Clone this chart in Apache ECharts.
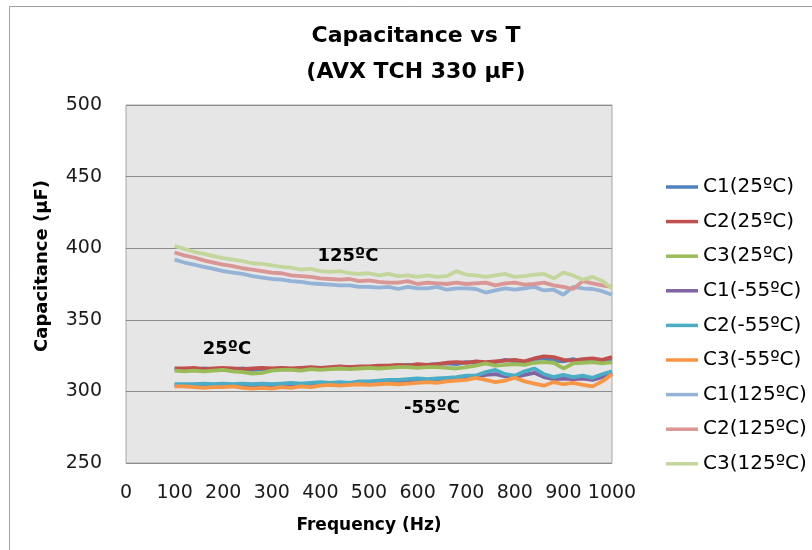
<!DOCTYPE html>
<html>
<head>
<meta charset="utf-8">
<title>Capacitance vs T</title>
<script src="https://cdn.jsdelivr.net/npm/echarts@6/dist/echarts.min.js"></script>
<style>
  html, body { margin: 0; padding: 0; background: #fff; }
  #chart { width: 812px; height: 550px; }
</style>
</head>
<body>
<div id="chart"></div>
<script>
// frequency points (Hz)
var freq = [100, 120, 140, 160, 180, 200, 220, 240, 260, 280,
  300, 320, 340, 360, 380, 400, 420, 440, 460, 480,
  500, 520, 540, 560, 580, 600, 620, 640, 660, 680,
  700, 720, 740, 760, 780, 800, 820, 840, 860, 880,
  900, 920, 940, 960, 980, 1000];

// capacitance (uF)
var c1_25 = [315.5, 315.5, 315, 316, 315.5, 315, 315.5, 316, 315, 315.5,
  315.5, 316, 315.5, 316, 316.5, 316, 316, 316.5, 317, 316.5,
  317, 317.5, 317.5, 318, 318.5, 318, 318.5, 319, 319.5, 319,
  320.5, 320, 319.5, 320.5, 322, 321, 320.5, 322.5, 323, 321.5,
  321, 322.5, 320.5, 322, 321.5, 322];
var c2_25 = [316, 316, 316.5, 315.5, 316, 316.5, 316, 315.5, 316, 316.5,
  316, 316.5, 316, 316.5, 317, 316.5, 317, 317.5, 317, 317.5,
  317.5, 318, 318, 318.5, 318, 319, 318.5, 319, 320, 320.5,
  320, 321, 320.5, 321, 321.5, 322, 321, 323, 324.5, 324,
  322, 321.5, 322.5, 323, 322, 324];
var c3_25 = [314.5, 314, 314.5, 314, 314.5, 315, 314, 313.5, 312.5, 313,
  314.5, 315, 315, 314.5, 315.5, 315, 315.5, 316, 315.5, 316,
  316.5, 316, 316.5, 317, 317, 316.5, 317, 317, 316.5, 316,
  317, 318, 319.5, 318, 318.5, 319, 318.5, 320, 320.5, 320,
  316, 319.5, 320, 320.5, 319.5, 320.5];
var c1_m55 = [304.5, 304, 304, 304.5, 304, 304.5, 304, 304.5, 304, 304,
  304, 304.5, 305, 304.5, 305, 305.5, 305, 305.5, 305.5, 306,
  306, 306.5, 307, 307, 307.5, 308, 307.5, 308, 308.5, 309,
  310, 310, 311.5, 312, 310.5, 310, 311.5, 313, 310, 308.5,
  309, 308.5, 309, 308, 310, 313];
var c2_m55 = [305, 305, 305, 305.5, 305, 305.5, 305, 305.5, 305, 305.5,
  305, 305.5, 306, 305.5, 306, 306.5, 306, 306.5, 306, 307,
  307, 307.5, 308, 308, 308.5, 309, 308.5, 309, 309.5, 310,
  311, 311, 313.5, 315, 312, 311, 314, 316, 312, 310,
  311.5, 310, 311, 309.5, 312, 314];
var c3_m55 = [303.5, 303.5, 303, 302.5, 303, 303, 303.5, 302.5, 302, 302.5,
  302, 303, 302.5, 303.5, 303, 304, 304.5, 304, 304.5, 305,
  304.5, 305, 305.5, 305, 305.5, 306, 306.5, 306, 307, 307.5,
  308, 309.5, 308, 306.5, 307.5, 309.5, 307, 305.5, 304, 306.5,
  305, 306, 304.5, 303.5, 307, 312];
var c1_125 = [392, 390, 388.5, 387, 385.5, 384, 383, 382, 380.5, 379.5,
  378.5, 378, 377, 376.5, 375.5, 375, 374.5, 374, 374, 373,
  373, 372.5, 373, 371.5, 373, 372, 372, 373, 371, 372,
  372, 371.5, 369, 370.5, 372, 371, 372, 373, 370.5, 371,
  367.5, 373, 372, 371.5, 370, 367.5];
var c2_125 = [397, 395, 393.5, 391.5, 390, 388.5, 387.5, 386, 385, 384,
  383, 382.5, 381, 380.5, 380, 379, 378.5, 378, 378.5, 377,
  377.5, 376.5, 376, 376, 377, 375, 376, 375.5, 375, 376,
  375, 375.5, 376, 374, 375.5, 376, 374.5, 375, 376, 374,
  373, 371.5, 377, 375.5, 374, 373];
var c3_125 = [401.5, 399.5, 397.5, 396, 394.5, 393, 392, 391, 389.5, 389,
  388, 387, 386.5, 385, 385.5, 384, 383.5, 384, 382.5, 382,
  382.5, 381, 382, 380.5, 381, 380, 381, 380, 380.5, 384,
  381.5, 381, 380, 381, 382, 380, 380.5, 381.5, 382, 379,
  383, 381, 378, 380, 377, 372];

var seriesNames = ["C1(25ºC)", "C2(25ºC)", "C3(25ºC)",
  "C1(-55ºC)", "C2(-55ºC)", "C3(-55ºC)",
  "C1(125ºC)", "C2(125ºC)", "C3(125ºC)"];
var seriesData = [c1_25, c2_25, c3_25, c1_m55, c2_m55, c3_m55, c1_125, c2_125, c3_125];
var colors = ["#4F81BD", "#C0504D", "#9BBB59", "#8064A2", "#4BACC6", "#F79646",
  "#95B3D7", "#D99694", "#C3D69B"];

var xTicks = [0, 1000, 100];   // min, max, step
var yTicks = [250, 500, 50];

var font = "DejaVu Sans";

var series = seriesNames.map(function (name, i) {
  return {
    name: name,
    type: "line",
    showSymbol: false,
    symbol: "none",
    animation: false,
    lineStyle: { width: 3.8, color: colors[i] },
    itemStyle: { color: colors[i] },
    data: freq.map(function (f, k) { return [f, seriesData[i][k]]; })
  };
});

var chart = echarts.init(document.getElementById("chart"), null, { renderer: "canvas" });

chart.setOption({
  animation: false,
  backgroundColor: "#ffffff",
  title: {
    text: "Capacitance vs T\n(AVX TCH 330 µF)",
    left: 411,
    top: 13,
    textAlign: "center",
    textStyle: { fontFamily: font, fontWeight: "bold", fontSize: 22, lineHeight: 36, color: "#000" }
  },
  legend: {
    orient: "vertical",
    left: 661,
    top: 172,
    icon: "rect",
    itemWidth: 32,
    itemHeight: 3.5,
    itemGap: 14.6,
    textStyle: { fontFamily: font, fontSize: 20, lineHeight: 20, color: "#000" },
    data: seriesNames
  },
  grid: {
    left: 126,
    right: 200,
    top: 105,
    bottom: 87,
    show: true,
    backgroundColor: "#e6e6e6",
    borderColor: "#a6a6a6",
    borderWidth: 1
  },
  xAxis: {
    type: "value",
    min: xTicks[0],
    max: xTicks[1],
    interval: xTicks[2],
    name: "Frequency (Hz)",
    nameLocation: "middle",
    nameGap: 54,
    nameTextStyle: { fontFamily: font, fontWeight: "bold", fontSize: 17, color: "#000" },
    axisLine: { show: false },
    axisTick: { show: false },
    splitLine: { show: false },
    axisLabel: {
      fontFamily: font, fontSize: 19, color: "#1a1a1a", margin: 21,
      formatter: function (v) { return String(v); }
    }
  },
  yAxis: {
    type: "value",
    min: yTicks[0],
    max: yTicks[1],
    interval: yTicks[2],
    axisLine: { show: false },
    axisTick: { show: false },
    splitLine: { show: true, lineStyle: { color: "#8c8c8c", width: 1 } },
    axisLabel: {
      fontFamily: font, fontSize: 19, color: "#1a1a1a", margin: 24,
      formatter: function (v) { return String(v); }
    }
  },
  graphic: [
    {
      type: "rect",
      silent: true,
      shape: { x: 9.5, y: 6.5, width: 900, height: 700 },
      style: { fill: null, stroke: "#a0a0a0", lineWidth: 1 },
      z: -10
    },
    {
      type: "text",
      x: 42, y: 266,
      rotation: Math.PI / 2,
      style: { text: "Capacitance (µF)", fontFamily: font, fontWeight: "bold", fontSize: 18,
        fill: "#000", align: "center", verticalAlign: "middle" }
    },
    {
      type: "text", x: 348, y: 256, z: 100,
      style: { text: "125ºC", fontFamily: font, fontWeight: "bold", fontSize: 18,
        fill: "#000", align: "center", verticalAlign: "middle" }
    },
    {
      type: "text", x: 227, y: 349, z: 100,
      style: { text: "25ºC", fontFamily: font, fontWeight: "bold", fontSize: 18,
        fill: "#000", align: "center", verticalAlign: "middle" }
    },
    {
      type: "text", x: 432, y: 408, z: 100,
      style: { text: "-55ºC", fontFamily: font, fontWeight: "bold", fontSize: 18,
        fill: "#000", align: "center", verticalAlign: "middle" }
    }
  ],
  series: series
});
</script>
</body>
</html>
